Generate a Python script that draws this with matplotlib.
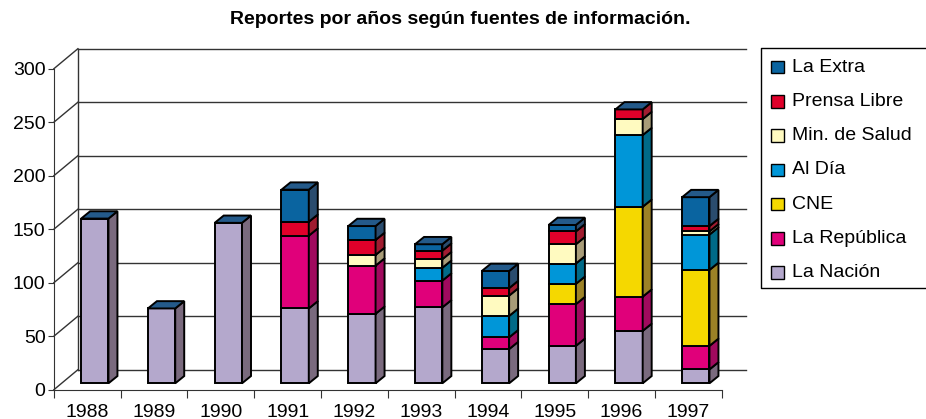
import numpy as np
import matplotlib
matplotlib.use("Agg")
import matplotlib.pyplot as plt
from matplotlib.patches import Polygon, Rectangle
from matplotlib.lines import Line2D

plt.rcParams["font.family"] = ["Liberation Sans", "DejaVu Sans"]

years = ["1988", "1989", "1990", "1991", "1992", "1993", "1994", "1995", "1996", "1997"]

# stacked bottom -> top
la_nacion = [154, 70, 150, 70, 65, 71, 32, 35, 49, 13]
la_republica = [0, 0, 0, 68, 45, 25, 11, 39, 32, 22]
cne = [0, 0, 0, 0, 0, 0, 0, 19, 84, 71]
al_dia = [0, 0, 0, 0, 0, 12, 20, 19, 67, 33]
min_salud = [0, 0, 0, 0, 10, 8, 19, 18, 15, 3]
prensa_libre = [0, 0, 0, 13, 14, 8, 7, 12, 9, 5]
la_extra = [0, 0, 0, 30, 13, 6, 16, 6, 0, 27]

series = [
    ("La Nación", la_nacion, "#b4a8cc", "#7a6a7e"),
    ("La República", la_republica, "#e0007a", "#a00a5e"),
    ("CNE", cne, "#f5d800", "#9c8226"),
    ("Al Día", al_dia, "#0096d8", "#006a88"),
    ("Min. de Salud", min_salud, "#fffac0", "#a89c78"),
    ("Prensa Libre", prensa_libre, "#e0002a", "#a01c30"),
    ("La Extra", la_extra, "#0a64a0", "#2a4c6e"),
]
top_color = "#245a8a"

W, H = 926, 419
fig = plt.figure(figsize=(W / 100, H / 100), dpi=100)

# axes placed so the front floor edge / front wall match the reference
x0_px, x1_px = 53.9, 721.7
y0_px, y300_px = 389.7, 68.7
ax = fig.add_axes([x0_px / W, (H - y0_px) / H, (x1_px - x0_px) / W, (y0_px - y300_px) / H])
ax.set_xlim(0, len(years))
ax.set_ylim(0, 300)

px_x = (x1_px - x0_px) / len(years)   # pixels per category
px_y = (y0_px - y300_px) / 300        # pixels per unit

DX = 24 / px_x     # floor depth in data units
DY = 20 / px_y
bdx = 9 / px_x     # bar depth
bdy = 7.3 / px_y
fx = (DX - bdx) / 2
fy = (DY - bdy) / 2
bw = 27.3 / px_x   # bar front width

grid_c = "#333333"
n = len(years)

# walls and gridlines
for v in range(0, 301, 50):
    ax.plot([DX, n + DX], [v + DY, v + DY], color=grid_c, lw=1.0, clip_on=False, zorder=1)
    ax.plot([0, DX], [v, v + DY], color=grid_c, lw=1.0, clip_on=False, zorder=1)
ax.plot([DX, DX], [DY, 300 + DY], color=grid_c, lw=1.0, clip_on=False, zorder=1)

# bars
for i in range(n):
    left = i + 0.5 - bw / 2 + fx
    bottom = fy
    for name, vals, front, side in series:
        h = vals[i]
        if h <= 0:
            continue
        ax.add_patch(Rectangle((left, bottom), bw, h, facecolor=front, edgecolor="black",
                               lw=1.4, clip_on=False, zorder=3))
        ax.add_patch(Polygon([(left + bw, bottom), (left + bw + bdx, bottom + bdy),
                              (left + bw + bdx, bottom + h + bdy), (left + bw, bottom + h)],
                             closed=True, facecolor=side, edgecolor="black", lw=1.4,
                             clip_on=False, zorder=3))
        bottom += h
    ax.add_patch(Polygon([(left, bottom), (left + bw, bottom), (left + bw + bdx, bottom + bdy),
                          (left + bdx, bottom + bdy)],
                         closed=True, facecolor=top_color, edgecolor="black", lw=1.4,
                         clip_on=False, zorder=4))

# axes styling
for s in ["top", "right"]:
    ax.spines[s].set_visible(False)
ax.spines["left"].set_color(grid_c)
ax.spines["bottom"].set_color(grid_c)
ax.set_yticks(range(0, 301, 50))
ax.tick_params(axis="y", direction="out", length=4, pad=2, labelsize=14, color=grid_c)
ax.set_xticks(range(0, n + 1))
ax.set_xticklabels([])
ax.set_xticks(np.arange(n) + 0.5, minor=True)
ax.set_xticklabels(years, minor=True)
ax.tick_params(axis="x", which="major", direction="out", length=6, color=grid_c)
ax.tick_params(axis="x", which="minor", length=0, pad=10, labelsize=14)
ax.patch.set_visible(False)

fig.text(460 / W, 1 - 20 / H, "Reportes por años según fuentes de información.",
         ha="center", va="center", fontsize=14, fontweight="bold")

# legend (box runs off the right edge, as in the reference)
lx, ly_top, ly_bot = 760.5, 48, 288
xr = 925 / W
fig.add_artist(Line2D([xr, lx / W, lx / W, xr],
                      [(H - ly_top) / H, (H - ly_top) / H, (H - ly_bot) / H, (H - ly_bot) / H],
                      transform=fig.transFigure, color="black", lw=1.0))
for k, (name, vals, front, side) in enumerate(series[::-1]):
    cy = 67 + k * 34.3
    fig.patches.append(Rectangle((771 / W, (H - cy - 6.3) / H), 13 / W, 12.6 / H,
                                 transform=fig.transFigure, facecolor=front,
                                 edgecolor="black", lw=1.0, figure=fig))
    fig.text(792 / W, (H - cy) / H, name, ha="left", va="center", fontsize=14)

fig.savefig("out.png", dpi=100)
